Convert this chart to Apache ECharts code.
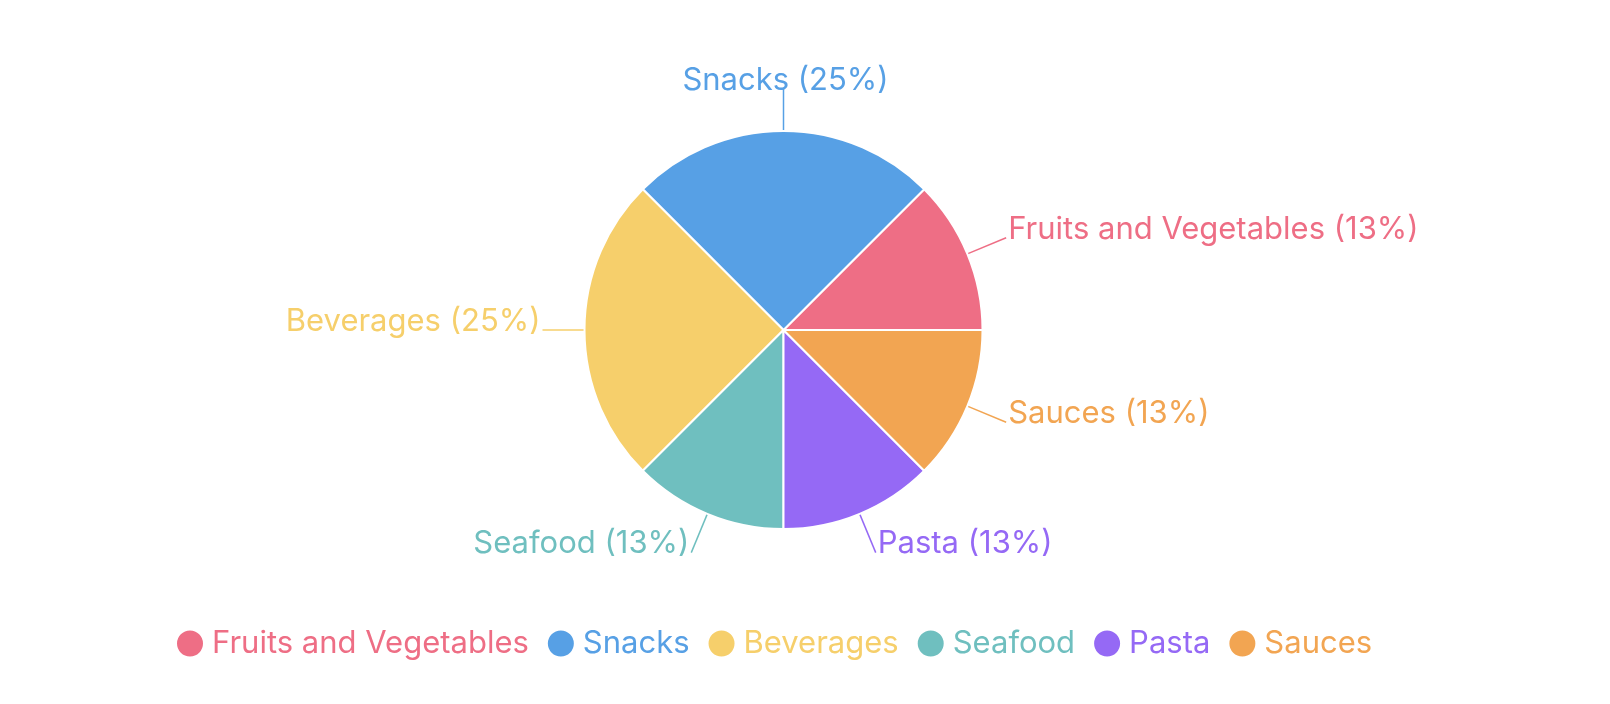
<!DOCTYPE html>
<html>
<head>
<meta charset="utf-8">
<script src="https://cdn.jsdelivr.net/npm/echarts@6/dist/echarts.min.js"></script>
<style>
html,body{margin:0;padding:0;background:#fff;}
#c{width:1610px;height:704px;}
</style>
</head>
<body>
<div id="c"></div>
<script>
const categories = ['Fruits and Vegetables', 'Snacks', 'Beverages', 'Seafood', 'Pasta', 'Sauces'];
const values = [1, 2, 2, 1, 1, 1];
const colors = ['#ee6e85', '#57a0e5', '#f6cf6b', '#6fbfbf', '#9569f5', '#f2a552'];

const total = values.reduce((a, b) => a + b, 0);
const FONT = 'Inter, "Liberation Sans", sans-serif';

const chart = echarts.init(document.getElementById('c'), null, {renderer: 'canvas'});
chart.setOption({
  animation: false,
  color: colors,
  legend: {
    bottom: 40,
    left: 170,
    icon: 'circle',
    itemWidth: 28,
    itemHeight: 28,
    itemGap: 17,
    data: categories,
    textStyle: {
      fontFamily: FONT,
      fontSize: 31,
      color: 'inherit',
      padding: [0, 0, 0, 3]
    },
    formatter: name => name
  },
  series: [{
    type: 'pie',
    center: [783.5, 330],
    radius: 199,
    startAngle: 0,
    clockwise: false,
    itemStyle: {borderColor: '#fff', borderWidth: 2},
    label: {
      show: true,
      position: 'outside',
      fontFamily: FONT,
      fontSize: 31,
      lineHeight: 17,
      color: 'inherit',
      distanceToLabelLine: 2,
      formatter: p => p.name + ' (' + Math.round(p.value / total * 100) + '%)'
    },
    labelLine: {
      show: true,
      length: 42,
      length2: 0,
      smooth: false,
      lineStyle: {width: 1.5}
    },
    labelLayout: function (params) {
      const o = {verticalAlign: 'bottom'};
      if (params.dataIndex === 1) o.align = 'center';
      return o;
    },
    emphasis: {disabled: true},
    data: categories.map((c, i) => ({name: c, value: values[i]}))
  }]
});
</script>
</body>
</html>
